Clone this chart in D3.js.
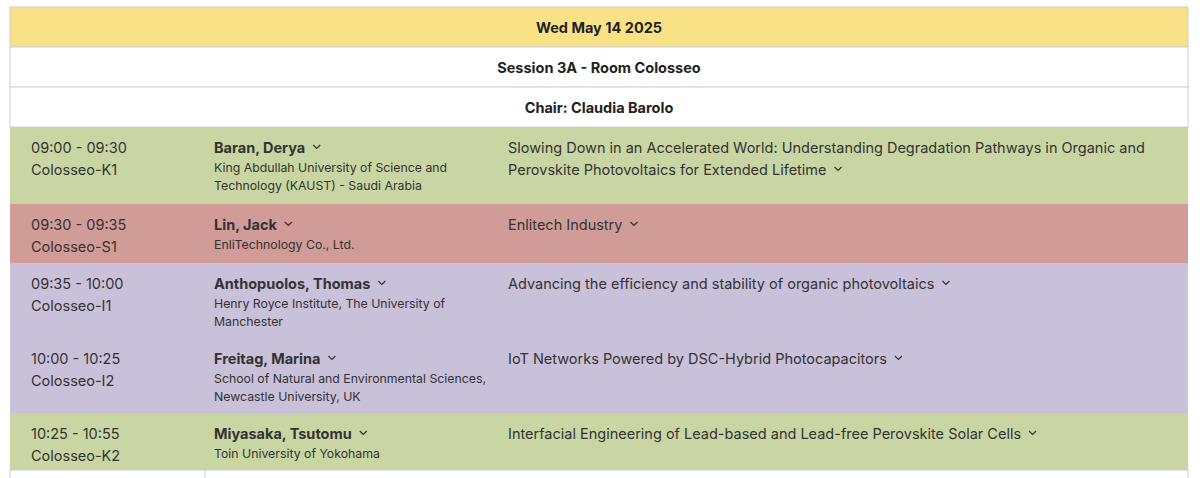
<!DOCTYPE html>
<html><head><meta charset="utf-8">
<script src="https://cdn.jsdelivr.net/npm/d3@7"></script>
<style>body{margin:0;background:#fff;font-family:Inter,"Noto Sans",sans-serif;}</style>
</head><body><svg id="c" width="1200" height="478"></svg>
<script>
const dateLabel = "Wed May 14 2025";
const sessionLabel = "Session 3A - Room Colosseo";
const chairLabel = "Chair: Claudia Barolo";
const times = ["09:00 - 09:30","09:30 - 09:35","09:35 - 10:00","10:00 - 10:25","10:25 - 10:55"];
const codes = ["Colosseo-K1","Colosseo-S1","Colosseo-I1","Colosseo-I2","Colosseo-K2"];
const speakers = ["Baran, Derya","Lin, Jack","Anthopuolos, Thomas","Freitag, Marina","Miyasaka, Tsutomu"];
const affiliations = [
 ["King Abdullah University of Science and","Technology (KAUST) - Saudi Arabia"],
 ["EnliTechnology Co., Ltd."],
 ["Henry Royce Institute, The University of","Manchester"],
 ["School of Natural and Environmental Sciences,","Newcastle University, UK"],
 ["Toin University of Yokohama"]];
const titles = [
 ["Slowing Down in an Accelerated World: Understanding Degradation Pathways in Organic and","Perovskite Photovoltaics for Extended Lifetime"],
 ["Enlitech Industry"],
 ["Advancing the efficiency and stability of organic photovoltaics"],
 ["IoT Networks Powered by DSC-Hybrid Photocapacitors"],
 ["Interfacial Engineering of Lead-based and Lead-free Perovskite Solar Cells"]];
const kinds = ["K","S","I","I","K"];
const rowHeights = [77,59,75,75,57];

const svg = d3.select("#c");
const L=10, R=1188, W=R-L;
const color = d3.scaleOrdinal().domain(["K","S","I"]).range(["#c9d6a3","#d19c97","#c9c0d9"]);
const headers = [{t:dateLabel,f:"#f9e286"},{t:sessionLabel,f:"#fff"},{t:chairLabel,f:"#fff"}];
const hy = d3.scaleLinear().domain([0,1]).range([7,47]);
headers.forEach((h,i)=>{
  svg.append("rect").attr("x",L).attr("y",hy(i)).attr("width",W).attr("height",40).attr("fill",h.f).attr("stroke","#d0d0d0");
  svg.append("text").attr("x",(L+R)/2).attr("y",hy(i)+26).attr("text-anchor","middle").attr("font-size",14.5).attr("font-weight",700).attr("fill","#222").text(h.t);
});
let y0=127;
const ys = rowHeights.map(h=>{const y=y0;y0+=h;return y;});
// bottom partial row
svg.append("rect").attr("x",L).attr("y",y0).attr("width",W).attr("height",40).attr("fill","#fff").attr("stroke","#d0d0d0");
svg.append("line").attr("x1",205).attr("x2",205).attr("y1",y0).attr("y2",478).attr("stroke","#d0d0d0");
const chev=(g,x,y)=>g.append("path").attr("d",`M${x},${y} l3.5,3.5 l3.5,-3.5`).attr("fill","none").attr("stroke","#333").attr("stroke-width",1.2);
const rows = svg.selectAll("g.row").data(times).join("g").attr("class","row")
  .attr("transform",(d,i)=>`translate(0,${ys[i]})`);
rows.append("rect").attr("x",L).attr("y",0).attr("width",W).attr("height",(d,i)=>rowHeights[i]).attr("fill",(d,i)=>color(kinds[i]));
rows.each(function(d,i){
  const g=d3.select(this);
  g.append("text").attr("x",31).attr("y",26).attr("font-size",14.5).attr("fill","#333").text(times[i]);
  g.append("text").attr("x",31).attr("y",48).attr("font-size",14.5).attr("fill","#333").text(codes[i]);
  const n=g.append("text").attr("x",214).attr("y",26).attr("font-size",14.5).attr("font-weight",700).attr("fill","#333").text(speakers[i]);
  const nw=n.node().getComputedTextLength();
  chev(g,214+nw+8,18);
  affiliations[i].forEach((a,j)=>g.append("text").attr("x",214).attr("y",45+j*18).attr("font-size",12.3).attr("fill","#333").text(a));
  titles[i].forEach((t,j)=>{
    const tt=g.append("text").attr("x",508).attr("y",26+j*22).attr("font-size",14.5).attr("fill","#333").text(t);
    if(j===titles[i].length-1){chev(g,508+tt.node().getComputedTextLength()+8,18+j*22);}
  });
});
</script></body></html>
